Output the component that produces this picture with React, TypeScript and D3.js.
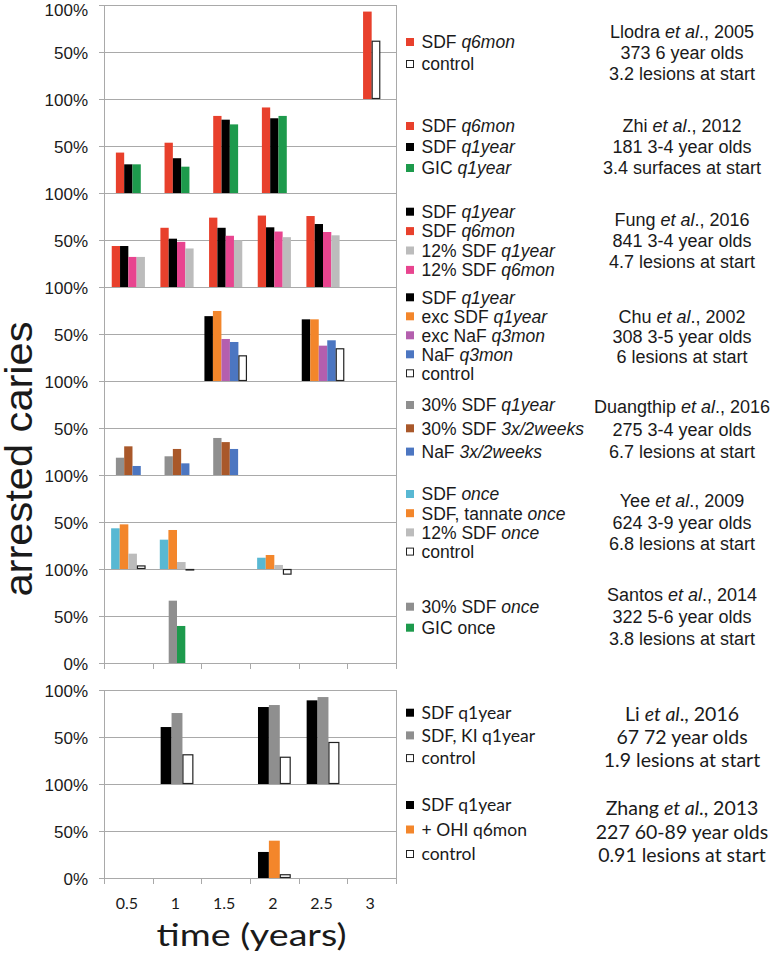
import React from "react";
import * as d3 from "d3";

// ---------- data ----------
const YEARS = ["0.5", "1", "1.5", "2", "2.5", "3"];
const Y_TICKS = [0, 50, 100];

// Llodra et al., 2005
const llodraSDFq6mon = [null, null, null, null, null, 93];
const llodraControl = [null, null, null, null, null, 62];
// Zhi et al., 2012
const zhiSDFq6mon = [43, 53.5, 82, 91, null, null];
const zhiSDFq1year = [30.5, 37, 78, 79.5, null, null];
const zhiGICq1year = [30.5, 28, 73, 82, null, null];
// Fung et al., 2016
const fungSDFq6mon = [43.6, 63, 73.8, 76, 75.5, null];
const fungSDFq1year = [43.6, 51.4, 63, 63.5, 67, null];
const fung12SDFq6mon = [32, 48, 54.5, 59, 58.5, null];
const fung12SDFq1year = [32, 41, 49.6, 53, 55, null];
// Chu et al., 2002
const chuSDFq1year = [null, null, 69, null, 65.6, null];
const chuExcSDFq1year = [null, null, 74.5, null, 65.6, null];
const chuExcNaFq3mon = [null, null, 44.7, null, 37.6, null];
const chuNaFq3mon = [null, null, 41.5, null, 43.3, null];
const chuControl = [null, null, 27.3, null, 34.8, null];
// Duangthip et al., 2016
const duangSDFq1year = [18.4, 19.9, 39.4, null, null, null];
const duangSDF3x = [30.5, 27.7, 35, null, null, null];
const duangNaF3x = [9.6, 12.4, 27.7, null, null, null];
// Yee et al., 2009
const yeeSDFonce = [43.3, 31.2, null, 12, null, null];
const yeeTannateOnce = [47.5, 41.5, null, 14.9, null, null];
const yee12SDFonce = [16.3, 7.4, null, 4.3, null, null];
const yeeControl = [3.8, -1.5, null, -6, null, null];
// Santos et al., 2014
const santosSDFonce = [null, 66.3, null, null, null, null];
const santosGICOnce = [null, 39.4, null, null, null, null];
// Li et al., 2016
const liSDFq1year = [null, 60.6, null, 81.9, 89, null];
const liKIq1year = [null, 75.5, null, 84, 92.5, null];
const liControl = [null, 31.6, null, 29, 44.7, null];
// Zhang et al., 2013
const zhangSDFq1year = [null, null, null, 27.7, null, null];
const zhangOHIq6mon = [null, null, null, 39.7, null, null];
const zhangControl = [null, null, null, 4, null, null];

// ---------- styles ----------
const C = {
  red: "#e8402c",
  black: "#000000",
  green: "#1d9a4c",
  pink: "#e8448f",
  lgray: "#bcbcbc",
  orange: "#f3862b",
  purple: "#b45fae",
  blue: "#4c76c1",
  gray: "#8f8f8f",
  brown: "#a9582a",
  cyan: "#58b8d3",
  control: "#ffffff",
};
const ARIAL = "'Liberation Sans', Arial, sans-serif";
const CAL = "Lato, 'Open Sans', sans-serif";
const GRID = "#a9a9a9";
const TXT = "#1a1a1a";

type Seg = [string, boolean];
type Item = { label: Seg[]; color: string };
type Panel = {
  top: number;
  bw: number;
  series: { values: (number | null)[]; color: string }[];
  legend: Item[];
  legendY: number;
  legendStep: number;
  legendFont: string;
  legendSize: number;
  note: Seg[][];
  noteY: number;
  noteStep: number;
  noteFont: string;
  noteSize: number;
};

const PANEL_H = 94;
const X0 = 104;
const X1 = 396;
const TOP_GROUP = 5;
const BOTTOM_GROUP = 690;

const arialLegend = { legendFont: ARIAL, legendSize: 17.5, noteFont: ARIAL, noteSize: 18 };
const calLegend = { legendFont: CAL, legendSize: 17.5, noteFont: CAL, noteSize: 19.5 };

const panels: Panel[] = [
  {
    top: TOP_GROUP, bw: 8.6,
    series: [
      { values: llodraSDFq6mon, color: C.red },
      { values: llodraControl, color: C.control },
    ],
    legend: [
      { label: [["SDF ", false], ["q6mon", true]], color: C.red },
      { label: [["control", false]], color: C.control },
    ],
    legendY: 37, legendStep: 22,
    note: [[["Llodra ", false], ["et al", true], ["., 2005", false]], [["373 6 year olds", false]], [["3.2 lesions at start", false]]],
    noteY: 27, noteStep: 21, ...arialLegend,
  },
  {
    top: TOP_GROUP + PANEL_H, bw: 8.3,
    series: [
      { values: zhiSDFq6mon, color: C.red },
      { values: zhiSDFq1year, color: C.black },
      { values: zhiGICq1year, color: C.green },
    ],
    legend: [
      { label: [["SDF ", false], ["q6mon", true]], color: C.red },
      { label: [["SDF ", false], ["q1year", true]], color: C.black },
      { label: [["GIC ", false], ["q1year", true]], color: C.green },
    ],
    legendY: 27, legendStep: 21,
    note: [[["Zhi ", false], ["et al", true], ["., 2012", false]], [["181 3-4 year olds", false]], [["3.4 surfaces at start", false]]],
    noteY: 27, noteStep: 21, ...arialLegend,
  },
  {
    top: TOP_GROUP + 2 * PANEL_H, bw: 8.3,
    series: [
      { values: fungSDFq6mon, color: C.red },
      { values: fungSDFq1year, color: C.black },
      { values: fung12SDFq6mon, color: C.pink },
      { values: fung12SDFq1year, color: C.lgray },
    ],
    legend: [
      { label: [["SDF ", false], ["q1year", true]], color: C.black },
      { label: [["SDF ", false], ["q6mon", true]], color: C.red },
      { label: [["12% SDF ", false], ["q1year", true]], color: C.lgray },
      { label: [["12% SDF ", false], ["q6mon", true]], color: C.pink },
    ],
    legendY: 18.7, legendStep: 19.4,
    note: [[["Fung ", false], ["et al", true], ["., 2016", false]], [["841 3-4 year olds", false]], [["4.7 lesions at start", false]]],
    noteY: 27, noteStep: 21, ...arialLegend,
  },
  {
    top: TOP_GROUP + 3 * PANEL_H, bw: 8.5,
    series: [
      { values: chuSDFq1year, color: C.black },
      { values: chuExcSDFq1year, color: C.orange },
      { values: chuExcNaFq3mon, color: C.purple },
      { values: chuNaFq3mon, color: C.blue },
      { values: chuControl, color: C.control },
    ],
    legend: [
      { label: [["SDF ", false], ["q1year", true]], color: C.black },
      { label: [["exc SDF ", false], ["q1year", true]], color: C.orange },
      { label: [["exc NaF ", false], ["q3mon", true]], color: C.purple },
      { label: [["NaF ", false], ["q3mon", true]], color: C.blue },
      { label: [["control", false]], color: C.control },
    ],
    legendY: 10.3, legendStep: 19,
    note: [[["Chu ", false], ["et al", true], ["., 2002", false]], [["308 3-5 year olds", false]], [["6 lesions at start", false]]],
    noteY: 29.7, noteStep: 20, ...arialLegend,
  },
  {
    top: TOP_GROUP + 4 * PANEL_H, bw: 8.3,
    series: [
      { values: duangSDFq1year, color: C.gray },
      { values: duangSDF3x, color: C.brown },
      { values: duangNaF3x, color: C.blue },
    ],
    legend: [
      { label: [["30% SDF ", false], ["q1year", true]], color: C.gray },
      { label: [["30% SDF ", false], ["3x/2weeks", true]], color: C.brown },
      { label: [["NaF ", false], ["3x/2weeks", true]], color: C.blue },
    ],
    legendY: 24, legendStep: 23.3,
    note: [[["Duangthip ", false], ["et al", true], ["., 2016", false]], [["275 3-4 year olds", false]], [["6.7 lesions at start", false]]],
    noteY: 25.7, noteStep: 22.5, ...arialLegend,
  },
  {
    top: TOP_GROUP + 5 * PANEL_H, bw: 8.6,
    series: [
      { values: yeeSDFonce, color: C.cyan },
      { values: yeeTannateOnce, color: C.orange },
      { values: yee12SDFonce, color: C.lgray },
      { values: yeeControl, color: C.control },
    ],
    legend: [
      { label: [["SDF ", false], ["once", true]], color: C.cyan },
      { label: [["SDF, tannate ", false], ["once", true]], color: C.orange },
      { label: [["12% SDF ", false], ["once", true]], color: C.lgray },
      { label: [["control", false]], color: C.control },
    ],
    legendY: 19, legendStep: 19.2,
    note: [[["Yee ", false], ["et al", true], ["., 2009", false]], [["624 3-9 year olds", false]], [["6.8 lesions at start", false]]],
    noteY: 26, noteStep: 21.3, ...arialLegend,
  },
  {
    top: TOP_GROUP + 6 * PANEL_H, bw: 8.3,
    series: [
      { values: santosSDFonce, color: C.gray },
      { values: santosGICOnce, color: C.green },
    ],
    legend: [
      { label: [["30% SDF ", false], ["once", true]], color: C.gray },
      { label: [["GIC once", false]], color: C.green },
    ],
    legendY: 37.7, legendStep: 21,
    note: [[["Santos ", false], ["et al", true], ["., 2014", false]], [["322 5-6 year olds", false]], [["3.8 lesions at start", false]]],
    noteY: 26, noteStep: 22, ...arialLegend,
  },
  {
    top: BOTTOM_GROUP, bw: 10.9,
    series: [
      { values: liSDFq1year, color: C.black },
      { values: liKIq1year, color: C.gray },
      { values: liControl, color: C.control },
    ],
    legend: [
      { label: [["SDF q1year", false]], color: C.black },
      { label: [["SDF, KI q1year", false]], color: C.gray },
      { label: [["control", false]], color: C.control },
    ],
    legendY: 22.7, legendStep: 22.7,
    note: [[["Li ", false], ["et al", true], ["., 2016", false]], [["67 72 year olds", false]], [["1.9 lesions at start", false]]],
    noteY: 24, noteStep: 23, ...calLegend,
  },
  {
    top: BOTTOM_GROUP + PANEL_H, bw: 10.9,
    series: [
      { values: zhangSDFq1year, color: C.black },
      { values: zhangOHIq6mon, color: C.orange },
      { values: zhangControl, color: C.control },
    ],
    legend: [
      { label: [["SDF q1year", false]], color: C.black },
      { label: [["+ OHI q6mon", false]], color: C.orange },
      { label: [["control", false]], color: C.control },
    ],
    legendY: 21, legendStep: 24.5,
    note: [[["Zhang ", false], ["et al", true], ["., 2013", false]], [["227 60-89 year olds", false]], [["0.91 lesions at start", false]]],
    noteY: 24.3, noteStep: 23.3, ...calLegend,
  },
];

const groups = [
  { top: TOP_GROUP, count: 7 },
  { top: BOTTOM_GROUP, count: 2 },
];

const x = d3.scaleBand<string>().domain(YEARS).range([X0, X1]).paddingInner(0).paddingOuter(0);

function renderSegs(segs: Seg[]) {
  return segs.map((s, i) => (
    <tspan key={i} fontStyle={s[1] ? "italic" : "normal"}>{s[0]}</tspan>
  ));
}

export default function App() {
  const W = 772;
  const H = 958;
  const els: React.ReactNode[] = [];

  // frames, grid, ticks, y labels
  groups.forEach((g, gi) => {
    const bottom = g.top + g.count * PANEL_H;
    for (let p = 0; p < g.count; p++) {
      const top = g.top + p * PANEL_H;
      const y = d3.scaleLinear().domain([0, 100]).range([top + PANEL_H, top]);
      Y_TICKS.forEach((t) => {
        const yy = Math.round(y(t)) + 0.5;
        els.push(<line key={`g${gi}-${p}-${t}`} x1={X0 - 5} x2={X1} y1={yy} y2={yy} stroke={GRID} strokeWidth={1} />);
        const showLabel = t > 0 || p === g.count - 1;
        if (showLabel) {
          const isTopmost = gi === 0 && p === 0 && t === 100;
          els.push(
            <text key={`yl${gi}-${p}-${t}`} x={88} y={isTopmost ? y(t) + 5 : y(t) + 1} dy="0.36em" textAnchor="end" fontFamily={ARIAL} fontSize={17} fill={TXT}>
              {`${t}%`}
            </text>
          );
        }
      });
    }
    els.push(<line key={`la${gi}`} x1={X0 + 0.5} x2={X0 + 0.5} y1={g.top} y2={bottom} stroke={GRID} strokeWidth={1} />);
    els.push(<line key={`ra${gi}`} x1={X1 + 0.5} x2={X1 + 0.5} y1={g.top} y2={bottom} stroke={GRID} strokeWidth={1} />);
    [...YEARS.map((yr) => x(yr) as number), X1].forEach((bx, i) => {
      const xx = Math.round(bx) + 0.5;
      els.push(<line key={`xt${gi}-${i}`} x1={xx} x2={xx} y1={bottom} y2={bottom + 6} stroke={GRID} strokeWidth={1} />);
    });
  });

  // bars, legends, notes
  panels.forEach((pn, pi) => {
    const y = d3.scaleLinear().domain([0, 100]).range([pn.top + PANEL_H, pn.top]);
    const n = pn.series.length;
    pn.series.forEach((s, si) => {
      s.values.forEach((v, ci) => {
        if (v === null || v === undefined) return;
        const cx = (x(YEARS[ci]) as number) + x.bandwidth() / 2;
        const bx = cx - (n * pn.bw) / 2 + si * pn.bw;
        const y0 = y(0);
        const y1 = y(v);
        const isCtrl = s.color === C.control;
        els.push(
          <rect
            key={`b${pi}-${si}-${ci}`}
            x={isCtrl ? bx + 0.5 : bx}
            y={Math.min(y0, y1) + (isCtrl ? 0.5 : 0)}
            width={isCtrl ? pn.bw - 1 : pn.bw}
            height={Math.max(Math.abs(y0 - y1) - (isCtrl ? 1 : 0), 0.5)}
            fill={s.color}
            stroke={isCtrl ? "#222" : "none"}
            strokeWidth={isCtrl ? 1.2 : 0}
          />
        );
      });
    });
    pn.legend.forEach((it, li) => {
      const cy = pn.top + pn.legendY + li * pn.legendStep;
      const isCtrl = it.color === C.control;
      els.push(
        <rect
          key={`lm${pi}-${li}`}
          x={isCtrl ? 406.5 : 406}
          y={cy - 4 + (isCtrl ? 0.5 : 0)}
          width={isCtrl ? 7 : 8}
          height={isCtrl ? 7 : 8}
          fill={it.color}
          stroke={isCtrl ? "#222" : "none"}
          strokeWidth={1}
        />
      );
      els.push(
        <text key={`lt${pi}-${li}`} x={421.5} y={cy} dy="0.36em" fontFamily={pn.legendFont} fontSize={pn.legendSize} fill={TXT}>
          {renderSegs(it.label)}
        </text>
      );
    });
    pn.note.forEach((line, ni) => {
      const cy = pn.top + pn.noteY + ni * pn.noteStep;
      els.push(
        <text key={`nt${pi}-${ni}`} x={682} y={cy} dy="0.36em" textAnchor="middle" fontFamily={pn.noteFont} fontSize={pn.noteSize} fill={TXT}>
          {renderSegs(line)}
        </text>
      );
    });
  });

  // x tick labels (bottom)
  YEARS.forEach((yr) => {
    els.push(
      <text key={`xl${yr}`} x={(x(yr) as number) + x.bandwidth() / 2 - 1.5} y={903.5} dy="0.36em" textAnchor="middle" fontFamily={CAL} fontSize={16} fill={TXT}>
        {yr}
      </text>
    );
  });

  return (
    <svg width={W} height={H} viewBox={`0 0 ${W} ${H}`} style={{ position: "absolute", left: 0, top: 0, display: "block", background: "#fff" }}>
      <rect x={0} y={0} width={W} height={H} fill="#fff" />
      {els}
      <text x={251.5} y={946} textAnchor="middle" fontFamily={CAL} fontSize={31} textLength={190} lengthAdjust="spacingAndGlyphs" fill={TXT}>
        time (years)
      </text>
      <text transform="translate(32,459) rotate(-90)" textAnchor="middle" fontFamily={ARIAL} fontSize={39} textLength={275} lengthAdjust="spacingAndGlyphs" fill={TXT}>
        arrested caries
      </text>
    </svg>
  );
}
